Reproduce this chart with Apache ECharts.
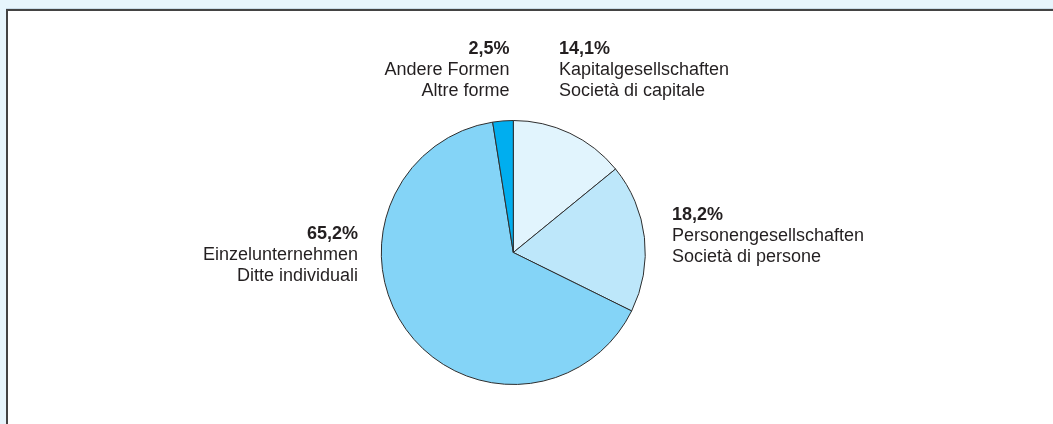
<!DOCTYPE html>
<html>
<head>
<meta charset="utf-8">
<script src="https://cdn.jsdelivr.net/npm/echarts@6/dist/echarts.min.js"></script>
<style>
  html, body { margin:0; padding:0; width:1053px; height:424px; background:#e7f5fc; overflow:hidden; }
  #panel { position:absolute; left:6px; top:9px; right:0; bottom:0; background:#ffffff; border-top:2px solid #434343; border-left:2px solid #434343; box-shadow: 0 -1px 0 #c9dce8; }
  #chart { position:absolute; left:0; top:0; width:1053px; height:424px; }
</style>
</head>
<body>
<div id="panel"></div>
<div id="chart"></div>
<script>
const categoriesDE = ['Kapitalgesellschaften', 'Personengesellschaften', 'Einzelunternehmen', 'Andere Formen'];
const categoriesIT = ['Società di capitale', 'Società di persone', 'Ditte individuali', 'Altre forme'];
const shares = [14.1, 18.2, 65.2, 2.5];
const shareLabels = ['14,1%', '18,2%', '65,2%', '2,5%'];

const sliceColors = ['#e1f4fd', '#bde7fa', '#84d4f7', '#00aeef'];
// label anchor (x, y top, align) for each slice
const labelAnchors = [
  { x: 559, y: 39, align: 'left' },
  { x: 672, y: 205, align: 'left' },
  { x: 358, y: 223.5, align: 'right' },
  { x: 509.5, y: 38.5, align: 'right' }
];

const chart = echarts.init(document.getElementById('chart'), null, { renderer: 'canvas' });
const data = shares.map((v, i) => ({
  value: v,
  name: categoriesDE[i],
  itemStyle: { color: sliceColors[i] },
  label: { align: labelAnchors[i].align }
}));

chart.setOption({
  backgroundColor: 'transparent',
  animation: false,
  series: [{
    type: 'pie',
    center: [513.3, 252.5],
    radius: [0, 132],
    startAngle: 90,
    clockwise: true,
    avoidLabelOverlap: false,
    itemStyle: { borderColor: '#2e2e2e', borderWidth: 1 },
    emphasis: { disabled: true },
    labelLine: { show: false },
    label: {
      show: true,
      position: 'outside',
      formatter: (p) => '{b|' + shareLabels[p.dataIndex] + '}\n{n|' + categoriesDE[p.dataIndex] + '}\n{n|' + categoriesIT[p.dataIndex] + '}',
      rich: {
        b: { fontFamily: 'Liberation Sans, Arial, sans-serif', fontSize: 18, fontWeight: 'bold', color: '#231f20', lineHeight: 21 },
        n: { fontFamily: 'Liberation Sans, Arial, sans-serif', fontSize: 18, color: '#231f20', lineHeight: 21 }
      }
    },
    labelLayout: (params) => {
      const a = labelAnchors[params.dataIndex];
      return { x: a.x, y: a.y, align: a.align, verticalAlign: 'top', hideOverlap: false };
    },
    data: data
  }]
});
</script>
</body>
</html>
